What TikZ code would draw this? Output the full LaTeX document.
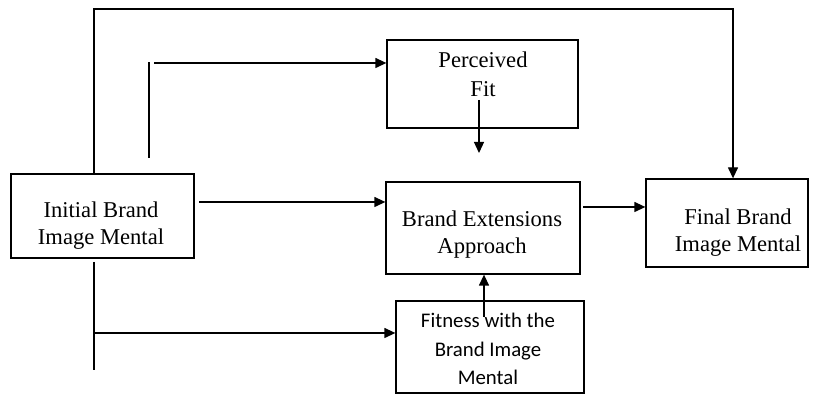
\documentclass[tikz,border=0pt]{standalone}
\usepackage{fontspec}
\setmainfont{Liberation Serif}
\newfontfamily\fitfont{Carlito}
\usetikzlibrary{arrows.meta}

\begin{document}
\begin{tikzpicture}[x=0.5bp,y=-0.5bp,
    box/.style={draw,line width=0.65pt,inner sep=0pt},
    lbl/.style={align=center,font=\fontsize{11.3bp}{13.5bp}\selectfont},
    conn/.style={line width=0.65pt},
    arr/.style={conn,-{Triangle[length=5.5bp,width=5bp]}}]
  \useasboundingbox (0,0) rectangle (819,394);
  % boxes
  \node[box,minimum width=91.5bp,minimum height=42bp] (ini) at (102.5,216) {};
  \node[box,minimum width=95.5bp,minimum height=44bp] (pfit) at (482.5,84) {};
  \node[box,minimum width=97bp,minimum height=46bp] (bext) at (483,228) {};
  \node[box,minimum width=81bp,minimum height=44bp] (fin) at (727,223) {};
  \node[box,minimum width=94bp,minimum height=46bp] (fitb) at (490,347) {};
  % texts
  \node[lbl] (iniT) at (101,226) {Initial Brand\\Image Mental};
  \node[lbl,font=\fontsize{11.3bp}{14.5bp}\selectfont] (pfitT) at (483,74) {Perceived\\Fit};
  \node[lbl] (bextT) at (482,235) {Brand Extensions\\Approach};
  \node[lbl] (finT) at (738,233) {Final Brand\\Image Mental};
  \node[lbl,font=\fitfont\fontsize{10.4bp}{14.2bp}\selectfont] (fitbT) at (488,349) {Fitness with the\\Brand Image\\Mental};
  % connectors
  \coordinate (t1) at (94,9);
  \coordinate (t2) at (733,9);
  \draw[arr] (ini.north -| t1) -- (t1) -- (t2) -- (t2 |- fin.north);

  \coordinate (s1) at (149,158);
  \coordinate (s2) at (149,62);
  \coordinate (s3) at (154,63);
  \draw[conn] (s1) -- (s2);
  \draw[arr] (s3) -- (s3 -| pfit.west);

  \coordinate (a1) at (199,202);
  \draw[arr] (a1) -- (a1 -| bext.west);

  \coordinate (p1) at (479,100);
  \coordinate (p2) at (479,153);
  \draw[arr] (p1) -- (p2);

  \coordinate (f1) at (484,317);
  \draw[arr] (f1) -- (f1 |- bext.south);

  \coordinate (b1) at (583,207);
  \draw[arr] (b1) -- (b1 -| fin.west);

  \coordinate (u1) at (94,262);
  \coordinate (u2) at (94,370);
  \coordinate (u3) at (94,333);
  \draw[conn] (u1) -- (u2);
  \draw[arr] (u3) -- (u3 -| fitb.west);
\end{tikzpicture}
\end{document}
